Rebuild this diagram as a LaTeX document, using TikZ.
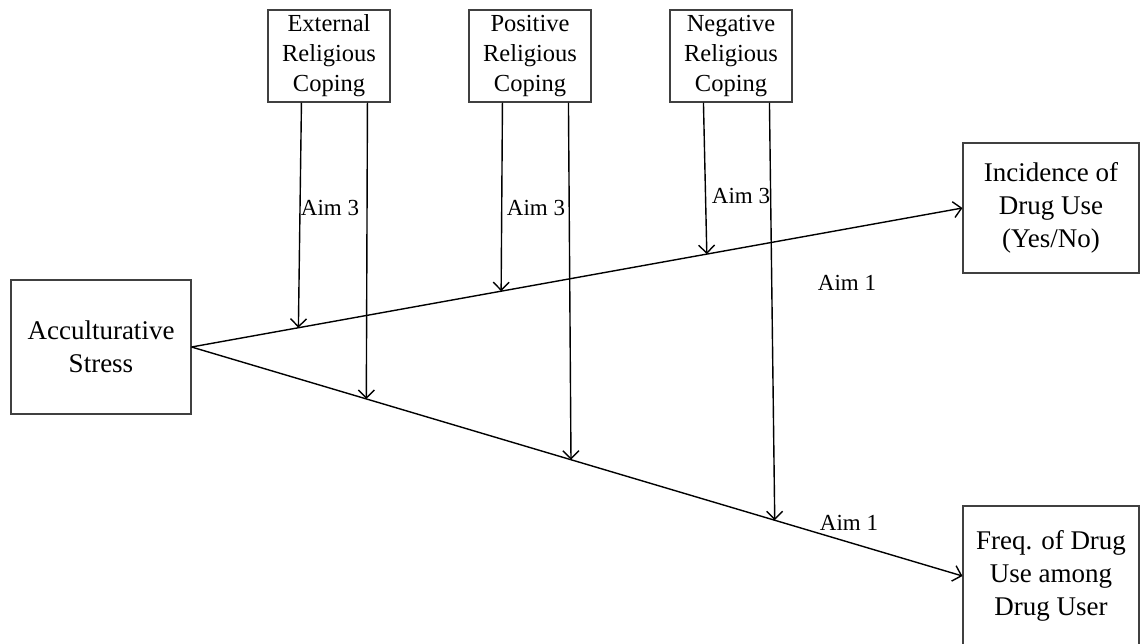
\documentclass[tikz,border=0pt]{standalone}
\usepackage{fontspec}
\setmainfont{Liberation Serif}
\usetikzlibrary{arrows.meta,calc}
\begin{document}
\begin{tikzpicture}[x=1pt,y=-1pt,
  box/.style={draw=black!75, line width=1.1pt, align=center, inner sep=0pt},
  bigbox/.style={box, font=\fontsize{27}{33}\selectfont},
  copebox/.style={box, font=\fontsize{24.5}{30}\selectfont, minimum width=122pt, minimum height=92pt},
  arr/.style={line width=1.4pt, -{Straight Barb[length=8pt,width=16pt]}},
  aim/.style={font=\fontsize{23}{27}\selectfont, inner sep=0pt}]
\useasboundingbox (0,0) rectangle (1140,643);
\clip (0,0) rectangle (1140,643);

% predictor and outcomes
\node[bigbox, minimum width=180pt, minimum height=134pt] (acc) at (101,347) {Acculturative\\Stress};
\node[bigbox, minimum width=176pt, minimum height=130pt] (inc) at (1051,208) {Incidence of\\Drug Use\\(Yes/No)};
\node[bigbox, minimum width=176pt, minimum height=140pt] (frq) at (1051,576) {Freq. of Drug\\Use among\\Drug User};

% moderators
\node[copebox] (ext) at (329,56) {External\\Religious\\Coping};
\node[copebox] (pos) at (530,56) {Positive\\Religious\\Coping};
\node[copebox] (neg) at (731,56) {Negative\\Religious\\Coping};

% main paths
\draw[arr] (acc.east) -- (inc.west);
\draw[arr] (acc.east) -- (frq.west);

% points where the moderators meet the paths
\coordinate (u1) at ($(acc.east)!0.1386!(inc.west)$);
\coordinate (u2) at ($(acc.east)!0.4016!(inc.west)$);
\coordinate (u3) at ($(acc.east)!0.6684!(inc.west)$);
\coordinate (l1) at ($(acc.east)!0.2267!(frq.west)$);
\coordinate (l2) at ($(acc.east)!0.4922!(frq.west)$);
\coordinate (l3) at ($(acc.east)!0.7565!(frq.west)$);

\draw[arr] ([xshift=34pt]ext.south west) -- (u1);
\draw[arr] ([xshift=100pt]ext.south west) -- (l1);
\draw[arr] ([xshift=34pt]pos.south west) -- (u2);
\draw[arr] ([xshift=100pt]pos.south west) -- (l2);
\draw[arr] ([xshift=34pt]neg.south west) -- (u3);
\draw[arr] ([xshift=100pt]neg.south west) -- (l3);

% labels
\node[aim] (a3e) at (330,208) {Aim 3};
\node[aim] (a3p) at (536,208) {Aim 3};
\node[aim] (a3n) at (741,196) {Aim 3};
\node[aim] (a1u) at (847,283) {Aim 1};
\node[aim] (a1l) at (849,523) {Aim 1};
\end{tikzpicture}
\end{document}
